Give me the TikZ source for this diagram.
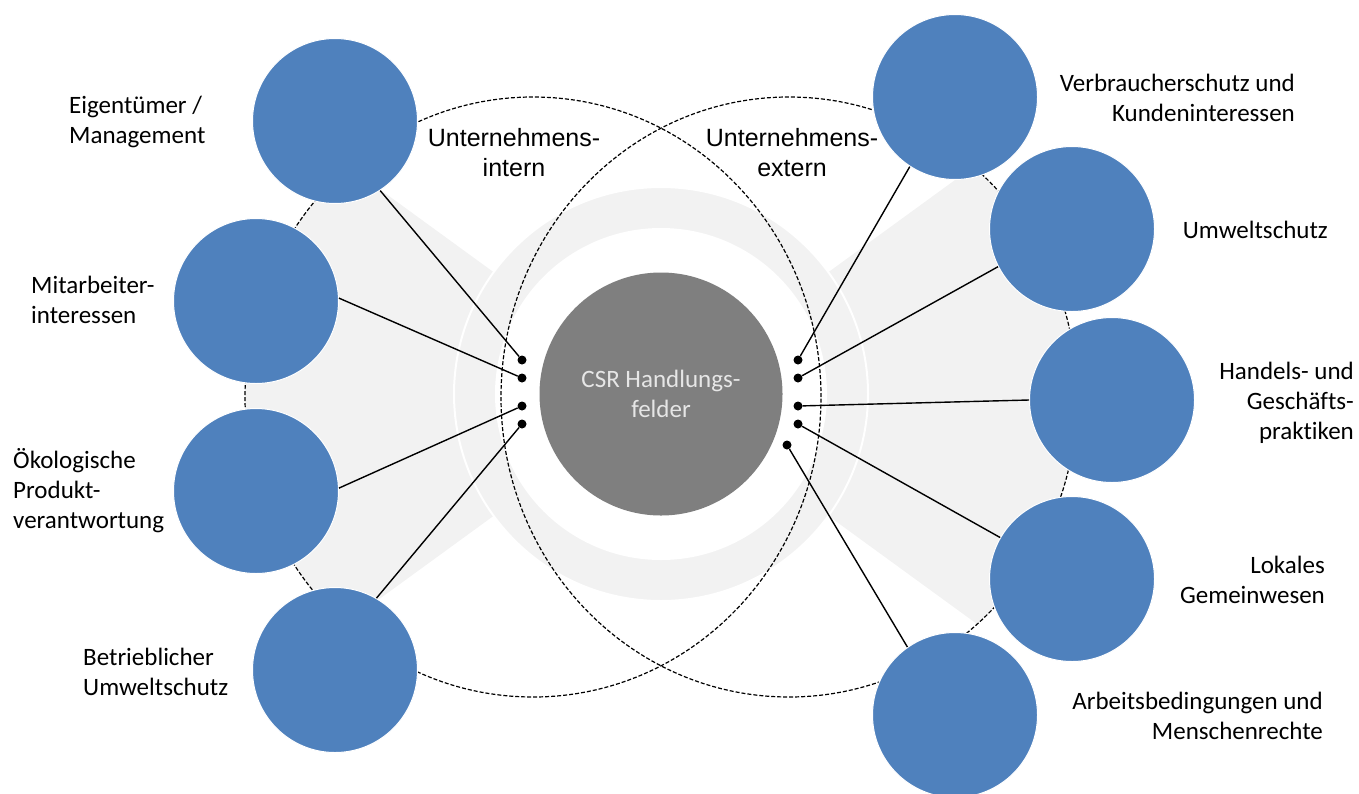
\documentclass[tikz,border=0pt]{standalone}
\usepackage{fontspec}
\setmainfont{Carlito}[Ligatures=NoCommon]
\newfontfamily\arialfont{Liberation Sans}
\definecolor{csrblue}{HTML}{4F81BD}
\definecolor{csrgray}{HTML}{7F7F7F}
\definecolor{csrlight}{HTML}{F2F2F2}
\definecolor{csrtext}{HTML}{E6E6E6}

\begin{document}
\begin{tikzpicture}[x=1pt, y=-1pt,
    every node/.style={font=\fontsize{25}{30}\selectfont},
    stake/.style={circle, fill=csrblue, draw=white, line width=1pt, minimum size=165pt, inner sep=0pt},
    endpt/.style={circle, fill=black, minimum size=9pt, inner sep=0pt},
    conn/.style={line width=1.4pt},
    zone/.style={dash pattern=on 4pt off 2pt, line width=1.2pt},
    lbl/.style={inner sep=0pt}]
  \useasboundingbox (0,0) rectangle (1359,793);
  % grey background wedges
  \begin{scope}
    \clip (533,397) circle [x radius=288pt, y radius=300pt];
    \fill[csrlight] (661,394) -- (176,41) -- (176,747) -- cycle;
  \end{scope}
  \begin{scope}
    \clip (789,397) circle [x radius=288pt, y radius=300pt];
    \fill[csrlight] (661,394) -- (1146,41) -- (1146,747) -- cycle;
  \end{scope}
  \draw[white, line width=2pt, fill=csrlight] (661,394) circle [radius=207pt];
  \fill[white] (661,394) circle [radius=166pt];
  % dashed areas
  \draw[zone] (533,397) circle [x radius=288pt, y radius=300pt];
  \draw[zone] (789,397) circle [x radius=288pt, y radius=300pt];
  \node[font=\arialfont\fontsize{25}{30}\selectfont, align=center, lbl] (intern) at (514,153) {Unternehmens-\\intern};
  \node[font=\arialfont\fontsize{25}{30}\selectfont, align=center, lbl] (extern) at (792,153) {Unternehmens-\\extern};
  % centre
  \node[circle, fill=csrgray, minimum size=243pt, inner sep=0pt, text=csrtext, align=center] (csr) at (661,394) {CSR Handlungs-\\felder};
  \node[endpt] (l1) at (522,360) {};
  \node[endpt] (l2) at (522,378) {};
  \node[endpt] (l3) at (522,406) {};
  \node[endpt] (l4) at (522,424) {};
  \node[endpt] (r1) at (798,360) {};
  \node[endpt] (r2) at (798,378) {};
  \node[endpt] (r3) at (798,406) {};
  \node[endpt] (r4) at (798,424) {};
  \node[endpt] (r5) at (787,445) {};
  % stakeholder circles
  \node[stake] (E) at (335,121) {};
  \node[stake] (M) at (256,301) {};
  \node[stake] (O) at (256,491) {};
  \node[stake] (B) at (335,670) {};
  \node[stake] (V) at (955,97) {};
  \node[stake] (U) at (1072,229) {};
  \node[stake] (H) at (1112,400) {};
  \node[stake] (L) at (1072,579) {};
  \node[stake] (A) at (955,715) {};
  \draw[conn] (E.-57) -- (l1);
  \draw[conn] (M.2) -- (l2);
  \draw[conn] (O.2) -- (l3);
  \draw[conn] (B.60) -- (l4);
  \draw[conn] (V.237) -- (r1);
  \draw[conn] (U.207) -- (r2);
  \draw[conn] (H.180) -- (r3);
  \draw[conn] (L.150) -- (r4);
  \draw[conn] (A.125) -- (r5);
  % labels
  \node[lbl, anchor=west, align=left] (tE) at (69,122) {Eigentümer /\\Management};
  \node[lbl, anchor=west, align=left] (tM) at (31,300) {Mitarbeiter-\\interessen};
  \node[lbl, anchor=west, align=left] (tO) at (13,491) {Ökologische\\Produkt-\\verantwortung};
  \node[lbl, anchor=west, align=left] (tB) at (83,672) {Betrieblicher\\Umweltschutz};
  \node[lbl, anchor=east, align=right] (tV) at (1295,98) {Verbraucherschutz und\\Kundeninteressen};
  \node[lbl, anchor=east, align=right] (tU) at (1328,230) {Umweltschutz};
  \node[lbl, anchor=east, align=right] (tH) at (1354,403) {Handels- und\\Geschäfts-\\praktiken};
  \node[lbl, anchor=east, align=right] (tL) at (1325,580) {Lokales\\Gemeinwesen};
  \node[lbl, anchor=east, align=right] (tA) at (1323,716) {Arbeitsbedingungen und\\Menschenrechte};
\end{tikzpicture}
\end{document}
